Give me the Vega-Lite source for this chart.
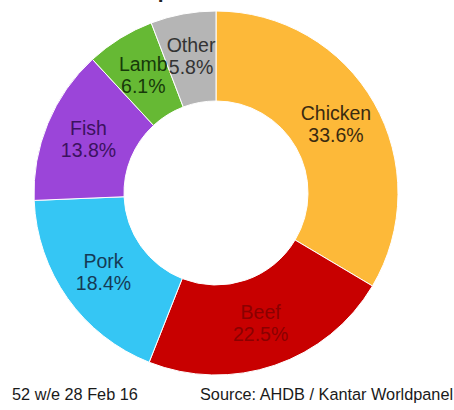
{
  "$schema": "https://vega.github.io/schema/vega-lite/v6.json",
  "width": 432,
  "height": 386,
  "autosize": {"type": "none"},
  "padding": {"left": 0, "top": 0, "right": 22, "bottom": 24},
  "background": "white",
  "config": {"view": {"stroke": null}, "font": "Liberation Sans"},
  "title": {"text": "Spend Share", "fontSize": 21, "fontWeight": "bold", "color": "#222222", "offset": -2, "anchor": "middle", "dx": -8, "font": "Liberation Sans"},
  "datasets": {
    "shares": [
      {"category": "Chicken", "share": 0.336},
      {"category": "Beef", "share": 0.225},
      {"category": "Pork", "share": 0.184},
      {"category": "Fish", "share": 0.138},
      {"category": "Lamb", "share": 0.061},
      {"category": "Other", "share": 0.058}
    ],
    "notes": [
      {"note": "52 w/e 28 Feb 16"},
      {"note": "Source: AHDB / Kantar Worldpanel"}
    ]
  },
  "layer": [
    {
      "data": {"name": "shares"},
      "mark": {"type": "arc", "outerRadius": 182, "innerRadius": 92, "stroke": "#ffffff", "strokeWidth": 1},
      "encoding": {
        "theta": {"field": "share", "type": "quantitative", "stack": true},
        "color": {
          "field": "category", "type": "nominal", "legend": null,
          "scale": {"domain": ["Chicken", "Beef", "Pork", "Fish", "Lamb", "Other"],
                    "range": ["#FDB939", "#C80000", "#35C6F4", "#9B45D9", "#66B934", "#B5B5B5"]}
        },
        "order": {"field": "share", "sort": "descending"}
      }
    },
    {
      "data": {"name": "shares"},
      "mark": {"type": "text", "radius": 138, "dy": -11, "fontSize": 19.5, "font": "Liberation Sans"},
      "encoding": {
        "theta": {"field": "share", "type": "quantitative", "stack": true},
        "color": {
          "field": "category", "type": "nominal", "legend": null,
          "scale": {"domain": ["Chicken", "Beef", "Pork", "Fish", "Lamb", "Other"],
                    "range": ["#3a2a10", "#8a0000", "#153a55", "#3b1260", "#173a0a", "#333333"]}
        },
        "order": {"field": "share", "sort": "descending"},
        "text": {"field": "category", "type": "nominal"}
      }
    },
    {
      "data": {"name": "shares"},
      "mark": {"type": "text", "radius": 138, "dy": 11, "fontSize": 19.5, "font": "Liberation Sans"},
      "encoding": {
        "theta": {"field": "share", "type": "quantitative", "stack": true},
        "color": {
          "field": "category", "type": "nominal", "legend": null,
          "scale": {"domain": ["Chicken", "Beef", "Pork", "Fish", "Lamb", "Other"],
                    "range": ["#3a2a10", "#8a0000", "#153a55", "#3b1260", "#173a0a", "#333333"]}
        },
        "order": {"field": "share", "sort": "descending"},
        "text": {"field": "share", "type": "quantitative", "format": ".1%"}
      }
    },
    {
      "data": {"name": "notes"},
      "mark": {"type": "text", "align": "left", "baseline": "middle", "dy": 202, "fontSize": 16.3, "color": "#1a1a1a", "font": "Liberation Sans"},
      "encoding": {
        "x": {"field": "note", "type": "nominal", "sort": null, "axis": null,
              "scale": {"type": "point", "range": [12, 200], "padding": 0}},
        "text": {"field": "note", "type": "nominal"}
      }
    }
  ],
  "resolve": {"scale": {"color": "independent"}}
}
